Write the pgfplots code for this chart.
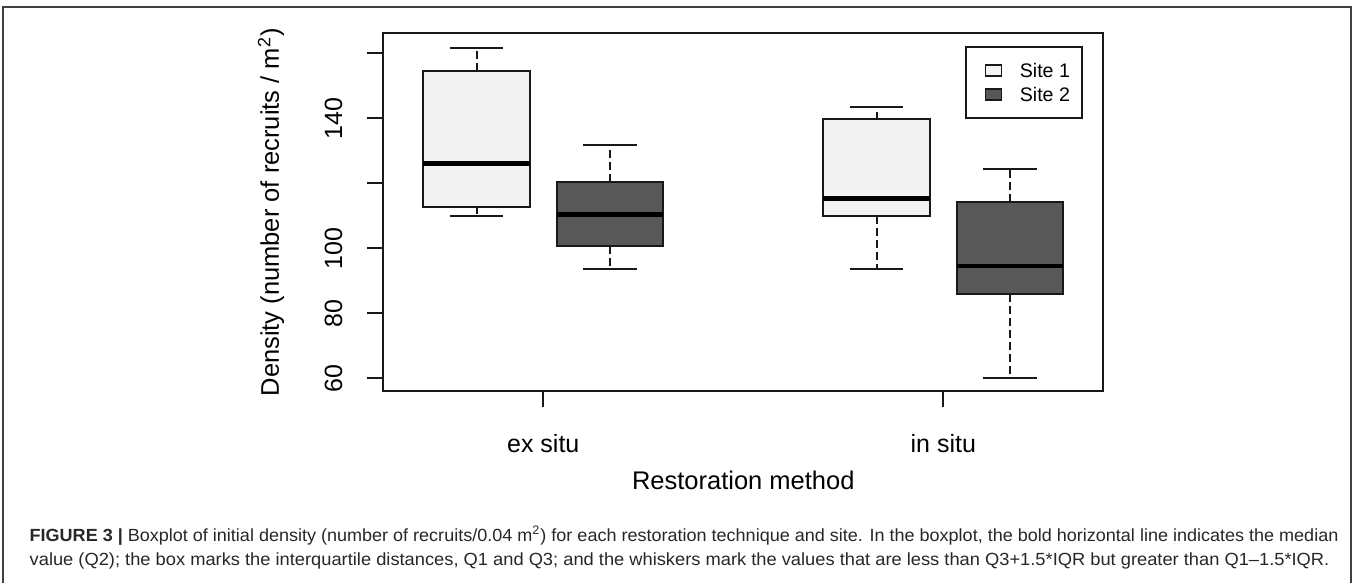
\documentclass[border=0pt]{standalone}
\usepackage{pgfplots}
\pgfplotsset{compat=1.18}
\usepackage{fontspec}
\setmainfont{Liberation Sans}
\usepackage{graphicx}
\definecolor{siteone}{RGB}{243,243,243}
\definecolor{sitetwo}{RGB}{88,88,88}
\definecolor{captxt}{RGB}{40,38,38}
\definecolor{lnc}{RGB}{25,25,25}

\pgfplotsset{
  whisk/.style={lnc, line width=1pt, dash pattern=on 3.8pt off 2.2pt, forget plot},
  staple/.style={lnc, line width=1pt, solid, forget plot},
  bx/.style={draw=lnc, fill=#1, line width=1pt, line join=miter, solid, forget plot},
  med/.style={black, line width=2.2pt, solid, forget plot},
}

\begin{document}
\begin{tikzpicture}[x=0.5pt,y=0.5pt]
\useasboundingbox (0,0) rectangle (1355,583);
% outer figure frame
\draw[line width=1pt, black!75] (3,-10) -- (3,575.5) -- (1350.5,575.5) -- (1350.5,-10);

\begin{axis}[
  at={(191.65pt,95.85pt)}, anchor=south west,
  scale only axis, width=360pt, height=178.9pt,
  xmin=0.3, xmax=5.7, ymin=56.06, ymax=166.15,
  axis line style={line width=1pt, lnc},
  xtick={1.5,4.5}, xticklabels={ex situ, in situ},
  ytick={60,80,100,120,140,160}, yticklabels={60,80,100,,140,},
  tick align=outside, major tick length=8pt,
  tick style={line width=1pt, lnc},
  xtick pos=bottom, ytick pos=left,
  tick label style={font=\fontsize{12.5pt}{15pt}\selectfont, inner sep=0pt},
  xticklabel style={anchor=base},
  xticklabel shift=22.7pt,
  yticklabel style={rotate=90, anchor=south},
  yticklabel shift=12.3pt,
  label style={font=\fontsize{12.75pt}{15pt}\selectfont, inner sep=0pt},
  xlabel={Restoration method},
  xlabel style={at={(axis description cs:0.5,-0.2739)}, anchor=base},
  ylabel={Density (number of recruits / m\textsuperscript{2})},
  ylabel style={at={(axis description cs:-0.1449,0.5)}, anchor=base},
  legend style={at={(axis description cs:1,1)}, anchor=north east,
    xshift=-10pt, yshift=-6.2pt, draw=lnc, line width=1pt, fill=white,
    inner xsep=6.15pt, inner ysep=8.4pt, row sep=5pt, column sep=8.85pt,
    font=\fontsize{9.8pt}{10pt}\selectfont, cells={anchor=west},
    nodes={inner sep=0pt, text height=7pt, text depth=0pt}},
  legend image code/.code={\path (-3pt,0pt); \draw[#1, line width=0.75pt, solid] (0pt,-2.75pt) rectangle (7.85pt,2.75pt);},
]
% ---------- ex situ, Site 1 (position 1): lw 109.9, Q1 112.9, med 126.2, Q3 154.6, uw 161.7
\addplot[whisk] coordinates {(1,154.6) (1,161.7)};
\addplot[whisk] coordinates {(1,112.9) (1,109.9)};
\addplot[staple] coordinates {(0.8,161.7) (1.2,161.7)};
\addplot[staple] coordinates {(0.8,109.9) (1.2,109.9)};
\addplot[bx=siteone] coordinates {(0.6,112.9) (1.4,112.9) (1.4,154.6) (0.6,154.6)} -- cycle;
\addplot[med] coordinates {(0.6,126.2) (1.4,126.2)};
% ---------- ex situ, Site 2 (position 2): lw 93.6, Q1 100.7, med 110.4, Q3 120.6, uw 131.7
\addplot[whisk] coordinates {(2,120.6) (2,131.7)};
\addplot[whisk] coordinates {(2,100.7) (2,93.6)};
\addplot[staple] coordinates {(1.8,131.7) (2.2,131.7)};
\addplot[staple] coordinates {(1.8,93.6) (2.2,93.6)};
\addplot[bx=sitetwo] coordinates {(1.6,100.7) (2.4,100.7) (2.4,120.6) (1.6,120.6)} -- cycle;
\addplot[med] coordinates {(1.6,110.4) (2.4,110.4)};
% ---------- in situ, Site 1 (position 4): lw 93.6, Q1 109.9, med 115.4, Q3 139.8, uw 143.4
\addplot[whisk] coordinates {(4,139.8) (4,143.4)};
\addplot[whisk] coordinates {(4,109.9) (4,93.6)};
\addplot[staple] coordinates {(3.8,143.4) (4.2,143.4)};
\addplot[staple] coordinates {(3.8,93.6) (4.2,93.6)};
\addplot[bx=siteone] coordinates {(3.6,109.9) (4.4,109.9) (4.4,139.8) (3.6,139.8)} -- cycle;
\addplot[med] coordinates {(3.6,115.4) (4.4,115.4)};
% ---------- in situ, Site 2 (position 5): lw 60.0, Q1 85.9, med 94.6, Q3 114.3, uw 124.6
\addplot[whisk] coordinates {(5,114.3) (5,124.6)};
\addplot[whisk] coordinates {(5,85.9) (5,60.0)};
\addplot[staple] coordinates {(4.8,124.6) (5.2,124.6)};
\addplot[staple] coordinates {(4.8,60.0) (5.2,60.0)};
\addplot[bx=sitetwo] coordinates {(4.6,85.9) (5.4,85.9) (5.4,114.3) (4.6,114.3)} -- cycle;
\addplot[med] coordinates {(4.6,94.6) (5.4,94.6)};
% legend
\addlegendimage{draw=lnc, fill=siteone}
\addlegendentry{Site 1}
\addlegendimage{draw=lnc, fill=sitetwo}
\addlegendentry{Site 2}
\end{axis}

% caption
\node[anchor=base west, inner sep=0pt, text=captxt] at (29.3,41)
  {\resizebox{654.3pt}{\height}{\fontsize{8.8pt}{10pt}\selectfont\textbf{FIGURE 3 |} Boxplot of initial density (number of recruits/0.04 m\textsuperscript{2}) for each restoration technique and site. In the boxplot, the bold horizontal line indicates the median}};
\node[anchor=base west, inner sep=0pt, text=captxt] at (29.3,17)
  {\resizebox{649.8pt}{\height}{\fontsize{8.8pt}{10pt}\selectfont value (Q2); the box marks the interquartile distances, Q1 and Q3; and the whiskers mark the values that are less than Q3+1.5*IQR but greater than Q1–1.5*IQR.}};
\end{tikzpicture}
\end{document}
